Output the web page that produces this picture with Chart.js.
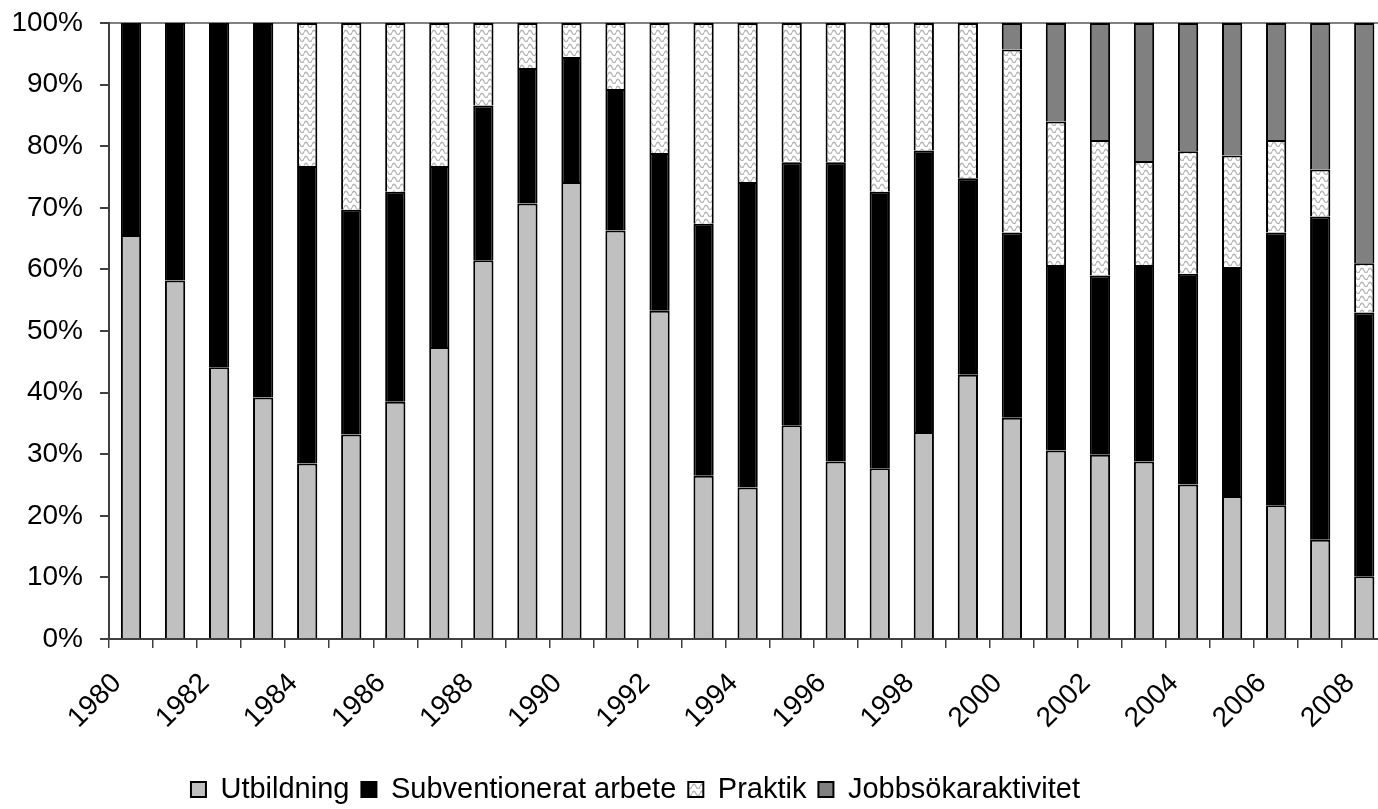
<!DOCTYPE html>
<html>
<head>
<meta charset="utf-8">
<script src="https://cdn.jsdelivr.net/npm/chart.js@4/dist/chart.umd.min.js"></script>
<style>
  html, body { margin: 0; padding: 0; background: #fff; overflow: hidden; }
  #chart { position: absolute; left: 0; top: 0; }
</style>
</head>
<body>
<canvas id="chart" width="1407" height="809"></canvas>
<script>
// Andel (%) per år och programtyp
const years = ["1980", "1981", "1982", "1983", "1984", "1985", "1986", "1987", "1988", "1989",
               "1990", "1991", "1992", "1993", "1994", "1995", "1996", "1997", "1998", "1999",
               "2000", "2001", "2002", "2003", "2004", "2005", "2006", "2007", "2008"];

const utbildning = [65.6, 58.2, 44.1, 39.2, 28.5, 33.2, 38.5, 47.4, 61.5, 70.7,
                    74.2, 66.3, 53.3, 26.5, 24.6, 34.7, 28.8, 27.7, 33.6, 42.9,
                    35.9, 30.6, 29.9, 28.8, 25.1, 23.2, 21.7, 16.1, 10.2];

const subventioneratArbete = [34.4, 41.8, 55.9, 60.8, 48.3, 36.5, 34.1, 29.4, 25.1, 22.0,
                              20.3, 23.0, 25.6, 40.9, 49.6, 42.7, 48.6, 44.9, 45.7, 31.9,
                              30.1, 30.1, 29.1, 31.9, 34.2, 37.2, 44.3, 52.5, 42.8];

const praktik = [0, 0, 0, 0, 23.2, 30.3, 27.4, 23.2, 13.4, 7.3,
                 5.5, 10.7, 21.1, 32.6, 25.8, 22.6, 22.6, 27.4, 20.7, 25.2,
                 29.7, 23.3, 22.0, 16.9, 19.9, 18.1, 15.0, 7.6, 8.0];

const jobbsokaraktivitet = [0, 0, 0, 0, 0, 0, 0, 0, 0, 0,
                            0, 0, 0, 0, 0, 0, 0, 0, 0, 0,
                            4.3, 16.0, 19.0, 22.4, 20.8, 21.5, 19.0, 23.8, 39.0];

const yMin = 0;
const yMax = 100;
const yStep = 10;

// ===============================
// Vågmönster för "Praktik"
// ===============================
function makeWavePattern() {
    const tile = document.createElement("canvas");
    tile.width = 8;
    tile.height = 7;
    const t = tile.getContext("2d");
    t.fillStyle = "#ffffff";
    t.fillRect(0, 0, 8, 7);
    t.strokeStyle = "#b4b4b4";
    t.lineWidth = 1.3;
    t.beginPath();
    t.moveTo(0, 4.5);
    t.quadraticCurveTo(2, 0, 4, 4.5);
    t.quadraticCurveTo(6, 9, 8, 4.5);
    t.stroke();
    return t.createPattern(tile, "repeat");
}

const ctx = document.getElementById("chart").getContext("2d");
const wave = makeWavePattern();

// flyttar förklaringen så den hamnar där den står i originalet
const legendShift = {
    id: "legendShift",
    beforeDraw(chart) {
        const lg = chart.legend;
        if (lg && !lg._shifted) {
            const orig = lg.draw.bind(lg);
            lg.draw = function (area) {
                chart.ctx.save();
                chart.ctx.translate(-68, 5);
                orig(area);
                chart.ctx.restore();
            };
            lg._shifted = true;
        }
    }
};

const font = { family: "'Liberation Sans', Arial, sans-serif", size: 28 };
const legendFont = { family: "'Liberation Sans', Arial, sans-serif", size: 29 };

new Chart(ctx, {
    type: "bar",
    data: {
        labels: years,
        datasets: [
            { label: "Utbildning", data: utbildning, backgroundColor: "#c0c0c0" },
            { label: "Subventionerat arbete", data: subventioneratArbete, backgroundColor: "#000000" },
            { label: "Praktik", data: praktik, backgroundColor: wave },
            { label: "Jobbsökaraktivitet", data: jobbsokaraktivitet, backgroundColor: "#808080" }
        ].map(ds => Object.assign(ds, {
            borderColor: "#000000",
            borderWidth: 2,
            categoryPercentage: 1,
            barPercentage: 0.46
        }))
    },
    options: {
        responsive: false,
        devicePixelRatio: 1,
        animation: false,
        layout: { padding: { top: 23, left: 0, right: 0, bottom: 0 } },
        plugins: {
            tooltip: { enabled: false },
            legend: {
                position: "bottom",
                labels: {
                    font: legendFont,
                    color: "#000000",
                    boxWidth: 15,
                    boxHeight: 15,
                    padding: 12
                }
            }
        },
        scales: {
            x: {
                stacked: true,
                afterFit(scale) { scale.height = 119; },
                border: { display: true, color: "#404040", width: 2 },
                grid: {
                    offset: true,
                    drawOnChartArea: false,
                    tickLength: 9,
                    color: "#404040",
                    lineWidth: 1.5
                },
                ticks: {
                    autoSkip: false,
                    maxRotation: 45,
                    minRotation: 45,
                    padding: 19,
                    labelOffset: -14,
                    color: "#000000",
                    font: font,
                    callback: function (val, i) {
                        return i % 2 === 0 ? this.getLabelForValue(val) : "";
                    }
                }
            },
            y: {
                stacked: true,
                min: yMin,
                max: yMax,
                afterFit(scale) {
                    scale.width = 109;
                    scale.paddingTop = 0;
                },
                border: { display: true, color: "#404040", width: 2 },
                grid: {
                    drawOnChartArea: true,
                    tickLength: 9,
                    lineWidth: 2,
                    color: c => (c.tick && c.tick.value === yMax) ? "#808080" : "rgba(0,0,0,0)",
                    tickColor: "#404040"
                },
                ticks: {
                    stepSize: yStep,
                    padding: 17,
                    color: "#000000",
                    font: font,
                    callback: v => v + "%"
                }
            }
        }
    },
    plugins: [legendShift]
});
</script>
</body>
</html>
